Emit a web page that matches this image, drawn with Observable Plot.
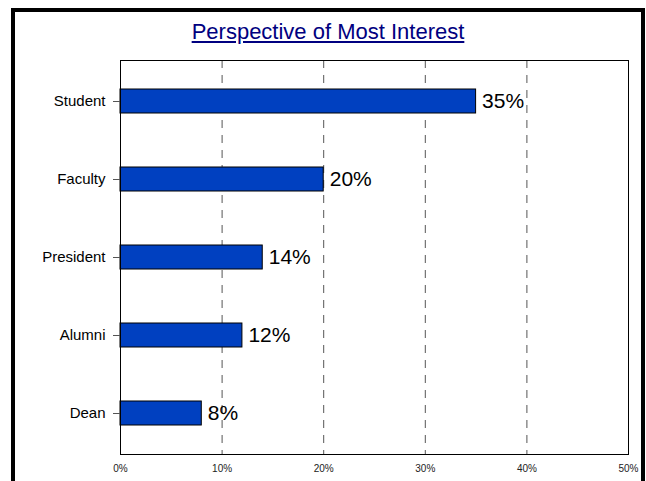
<!DOCTYPE html>
<html>
<head>
<meta charset="utf-8">
<script src="https://cdn.jsdelivr.net/npm/d3@7"></script>
<script src="https://cdn.jsdelivr.net/npm/@observablehq/plot@0.6"></script>
<style>
  html, body { margin: 0; padding: 0; background: #fff; }
  #wrap { position: relative; width: 646px; height: 481px; overflow: hidden; font-family: Arial, "Liberation Sans", sans-serif; }
  #frame { position: absolute; left: 11px; top: 8px; width: 626px; height: 520px; border: 4px solid #000; border-bottom: none; pointer-events: none; }
  #title { position: absolute; left: 11px; width: 634px; top: 20px; text-align: center; font-size: 22px; color: #000080; text-decoration: underline; line-height: 24px; }
  #chart { position: absolute; left: 0; top: 50px; }
</style>
</head>
<body>
<div id="wrap">
  <div id="title">Perspective of Most Interest</div>
  <div id="chart"></div>
  <div id="frame"></div>
</div>
<script>
const categories = ["Student", "Faculty", "President", "Alumni", "Dean"];
const values = [35, 20, 14, 12, 8];
const xTicks = [0, 10, 20, 30, 40, 50];
const gridTicks = [10, 20, 30, 40];

const data = categories.map((c, i) => ({category: c, value: values[i]}));

const chart = Plot.plot({
  width: 646,
  height: 431,
  marginLeft: 120,
  marginRight: 18,
  marginTop: 10,
  marginBottom: 27,
  style: {fontFamily: "Arial, 'Liberation Sans', sans-serif", background: "transparent", color: "#000"},
  x: {domain: [0, 50]},
  y: {domain: categories, padding: 0},
  marks: [
    Plot.gridX(gridTicks, {stroke: "#555", strokeOpacity: 1, strokeDasharray: "8,7"}),
    Plot.barX(data, {x: "value", y: "category", fill: "#0040C0", stroke: "#000", strokeWidth: 1, insetTop: 27, insetBottom: 27}),
    Plot.text(data, {x: "value", y: "category", text: d => d.value + "%", textAnchor: "start", dx: 6, fontSize: 21, fill: "#000"}),
    Plot.frame({stroke: "#000"}),
    Plot.axisX(xTicks, {tickSize: 0, tickPadding: 10, fontSize: 10, tickFormat: d => d + "%", label: null, fill: "#222"}),
    Plot.axisY({tickSize: 7, tickPadding: 8, fontSize: 15, label: null, stroke: "#555", fill: "#000"})
  ]
});
document.getElementById("chart").appendChild(chart);
</script>
</body>
</html>
